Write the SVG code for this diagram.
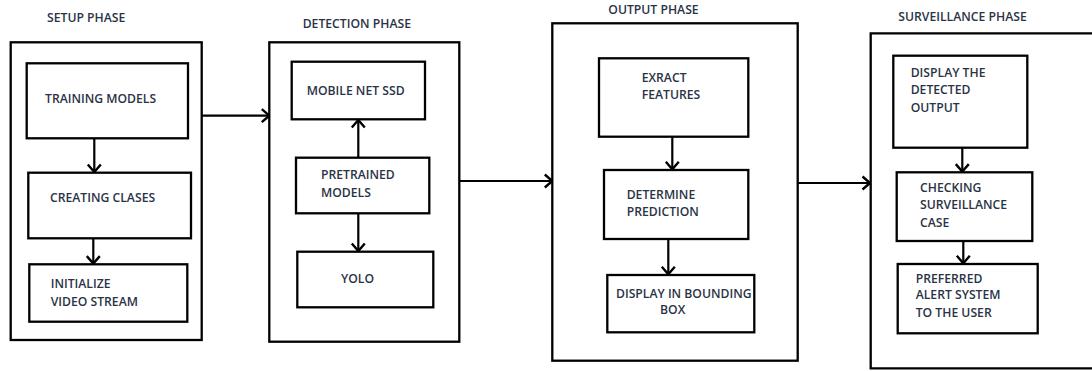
<svg xmlns="http://www.w3.org/2000/svg" width="1092" height="371" viewBox="0 0 1092 371">
  <style>
    .phase { fill: none; stroke: #000; stroke-width: 2.3; }
    .box { fill: #fff; stroke: #000; stroke-width: 2.3; }
    .title, .label { font-family: "Open Sans", "Liberation Sans", sans-serif; font-size: 12.2px; font-weight: 600; fill: #2a3346; }
    .conn { fill: none; stroke: #000; stroke-width: 2.2; }
  </style>
  <defs>
    <marker id="chev" viewBox="0 0 10 16" refX="9" refY="8" markerWidth="10" markerHeight="16" markerUnits="userSpaceOnUse" orient="auto">
      <path d="M1.5,1.5 L9,8 L1.5,14.5" fill="none" stroke="#000" stroke-width="2.4"/>
    </marker>
  </defs>

  <rect width="1092" height="371" fill="#fff"/>

  <!-- Setup phase -->
  <g id="setup-phase">
    <text class="title" x="47" y="22">SETUP PHASE</text>
    <rect class="phase" x="10.7" y="42.3" width="191" height="297.7"/>
  </g>
  <g id="training-models">
    <rect class="box" x="26.7" y="63.3" width="161.3" height="75"/>
    <text class="label" x="45" y="103">TRAINING MODELS</text>
  </g>
  <g id="creating-clases">
    <rect class="box" x="28.3" y="172.7" width="162.7" height="65.6"/>
    <text class="label" x="50" y="201.7">CREATING CLASES</text>
  </g>
  <g id="initialize-video-stream">
    <rect class="box" x="29.3" y="264.3" width="158" height="57.4"/>
    <text class="label" x="50.7" y="288">INITIALIZE</text>
    <text class="label" x="50.7" y="305.5">VIDEO STREAM</text>
  </g>

  <!-- Detection phase -->
  <g id="detection-phase">
    <text class="title" x="302.7" y="28">DETECTION PHASE</text>
    <rect class="phase" x="269.3" y="42.3" width="190" height="299.4"/>
  </g>
  <g id="mobile-net-ssd">
    <rect class="box" x="291.7" y="61.7" width="133.3" height="57.6"/>
    <text class="label" x="306.7" y="95">MOBILE NET SSD</text>
  </g>
  <g id="pretrained-models">
    <rect class="box" x="296" y="157.7" width="133.3" height="55.6"/>
    <text class="label" x="321" y="179.3">PRETRAINED</text>
    <text class="label" x="321" y="196.7">MODELS</text>
  </g>
  <g id="yolo">
    <rect class="box" x="297.3" y="251.7" width="136" height="55.6"/>
    <text class="label" x="341" y="283.3">YOLO</text>
  </g>

  <!-- Output phase -->
  <g id="output-phase">
    <text class="title" x="608.3" y="14">OUTPUT PHASE</text>
    <rect class="phase" x="552.3" y="23.3" width="245.4" height="337.4"/>
  </g>
  <g id="extract-features">
    <rect class="box" x="599" y="58.3" width="149.3" height="78.4"/>
    <text class="label" x="641.7" y="81.7">EXRACT</text>
    <text class="label" x="641.7" y="99">FEATURES</text>
  </g>
  <g id="determine-prediction">
    <rect class="box" x="604" y="170" width="144.3" height="69"/>
    <text class="label" x="626.7" y="199">DETERMINE</text>
    <text class="label" x="626.7" y="216">PREDICTION</text>
  </g>
  <g id="display-bounding-box">
    <rect class="box" x="607.3" y="275" width="147" height="57.3"/>
    <text class="label" x="616" y="297.7">DISPLAY IN BOUNDING</text>
    <text class="label" x="660" y="314.3">BOX</text>
  </g>

  <!-- Surveillance phase -->
  <g id="surveillance-phase">
    <text class="title" x="898.3" y="20.7">SURVEILLANCE PHASE</text>
    <path class="phase" d="M1093,33.3 H870.7 V368.3 H1093"/>
  </g>
  <g id="display-detected-output">
    <rect class="box" x="893.3" y="55.7" width="134" height="92"/>
    <text class="label" x="910.7" y="76.7">DISPLAY THE</text>
    <text class="label" x="910.7" y="94.3">DETECTED</text>
    <text class="label" x="910.7" y="111.7">OUTPUT</text>
  </g>
  <g id="checking-surveillance-case">
    <rect class="box" x="896.7" y="172.3" width="135.6" height="68.7"/>
    <text class="label" x="920" y="192.3">CHECKING</text>
    <text class="label" x="920" y="209.3">SURVEILLANCE</text>
    <text class="label" x="920" y="226.7">CASE</text>
  </g>
  <g id="preferred-alert-system">
    <rect class="box" x="897.7" y="264" width="140" height="69.3"/>
    <text class="label" x="915.7" y="282.7">PREFERRED</text>
    <text class="label" x="915.7" y="299.3">ALERT SYSTEM</text>
    <text class="label" x="915.7" y="316.7">TO THE USER</text>
  </g>

  <!-- Connectors -->
  <g id="connectors">
    <line class="conn" x1="94.3" y1="138.3" x2="94.3" y2="172" marker-end="url(#chev)"/>
    <line class="conn" x1="93.3" y1="238.3" x2="93.3" y2="263.6" marker-end="url(#chev)"/>
    <line class="conn" x1="201.7" y1="115.7" x2="269.3" y2="115.7" marker-end="url(#chev)"/>
    <line class="conn" x1="358.3" y1="157.7" x2="358.3" y2="120" marker-end="url(#chev)"/>
    <line class="conn" x1="358.3" y1="213.3" x2="358.3" y2="251" marker-end="url(#chev)"/>
    <line class="conn" x1="459.3" y1="181" x2="552.3" y2="181" marker-end="url(#chev)"/>
    <line class="conn" x1="672.3" y1="136.7" x2="672.3" y2="169.3" marker-end="url(#chev)"/>
    <line class="conn" x1="668.3" y1="239" x2="668.3" y2="274.3" marker-end="url(#chev)"/>
    <line class="conn" x1="797.7" y1="183" x2="870" y2="183" marker-end="url(#chev)"/>
    <line class="conn" x1="962.3" y1="147.7" x2="962.3" y2="171.6" marker-end="url(#chev)"/>
    <line class="conn" x1="963.3" y1="241" x2="963.3" y2="263.3" marker-end="url(#chev)"/>
  </g>
</svg>
